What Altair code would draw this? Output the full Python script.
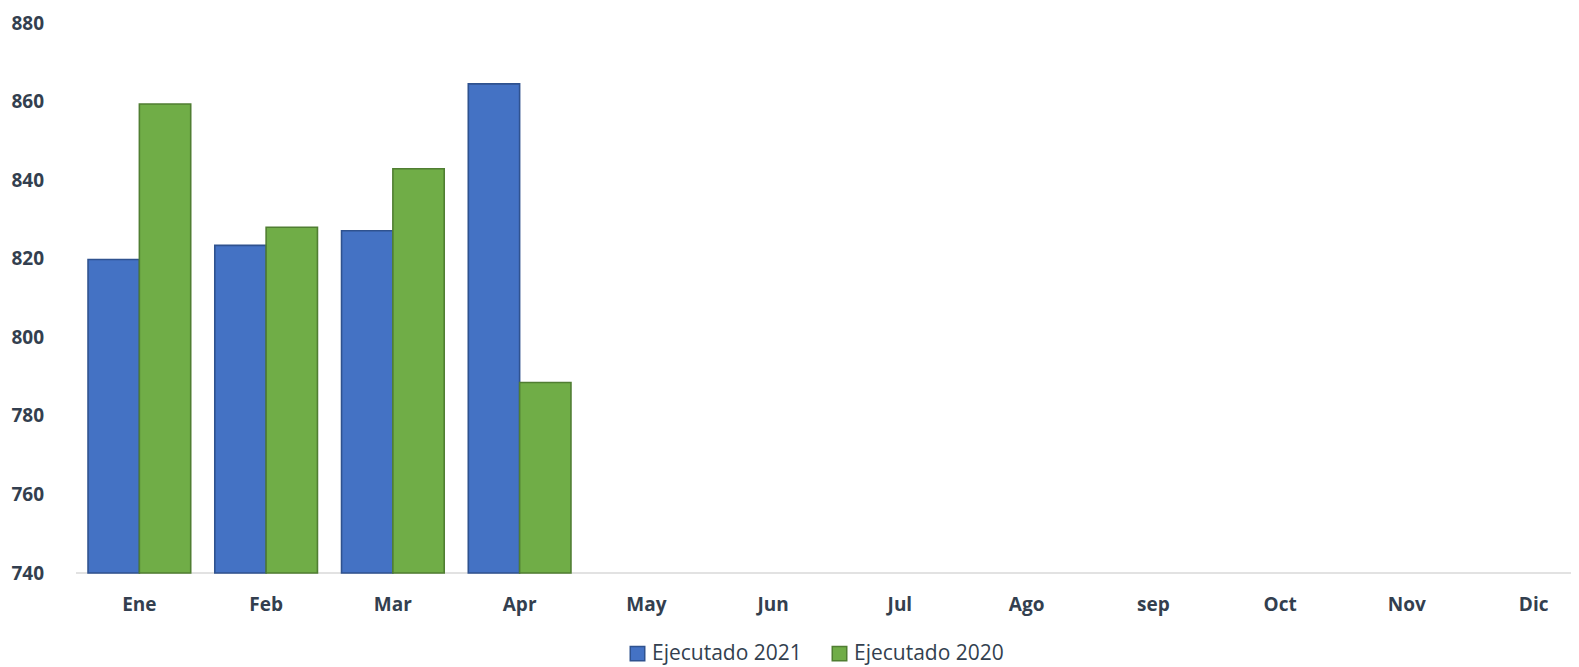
import altair as alt
import pandas as pd

# ---- data ----
months = ["Ene", "Feb", "Mar", "Apr", "May", "Jun", "Jul", "Ago", "sep", "Oct", "Nov", "Dic"]
data_months = ["Ene", "Feb", "Mar", "Apr"]
ejecutado_2021 = [819.8, 823.4, 827.1, 864.5]
ejecutado_2020 = [859.4, 828.0, 842.9, 788.5]
series = ["Ejecutado 2021", "Ejecutado 2020"]
y_ticks = [740, 760, 780, 800, 820, 840, 860, 880]

fill_colors = ["#4472C4", "#70AD47"]
stroke_colors = ["#2F528F", "#507E32"]
TEXT = "#333F4F"
FONT = "Open Sans"

rows = []
for m, a, b in zip(data_months, ejecutado_2021, ejecutado_2020):
    rows.append({"mes": m, "serie": series[0], "valor": a})
    rows.append({"mes": m, "serie": series[1], "valor": b})
df = pd.DataFrame(rows)

W, H = 1495, 550

legend_kw = dict(
    title=None, orient="none", legendX=551, legendY=620, direction="horizontal",
    symbolType="square", symbolSize=210, symbolStrokeWidth=1.5,
    labelFont=FONT, labelFontSize=21, labelColor=TEXT, labelOffset=4,
    columnPadding=27,
)

bars = alt.Chart(df).mark_bar(strokeWidth=1.6).encode(
    x=alt.X(
        "mes:N", sort=months,
        scale=alt.Scale(domain=months, range=[0, 1521], paddingInner=0.19, paddingOuter=0.095),
        axis=alt.Axis(title=None, domain=False, ticks=False, tickSize=0, labelAngle=0,
                      labelFont=FONT, labelFontWeight="bold", labelFontSize=19,
                      labelColor=TEXT, labelPadding=31, labelBaseline="middle"),
    ),
    xOffset=alt.XOffset("serie:N", sort=series,
                        scale=alt.Scale(domain=series, paddingInner=0, paddingOuter=0)),
    y=alt.Y(
        "valor:Q",
        scale=alt.Scale(domain=[740, 880], nice=False, zero=False),
        axis=alt.Axis(title=None, values=y_ticks, domain=False, ticks=False, tickSize=0,
                      grid=False, labelAlign="left", labelPadding=65,
                      labelFont=FONT, labelFontWeight="bold", labelFontSize=19,
                      labelColor=TEXT),
    ),
    y2=alt.datum(740),
    color=alt.Color("serie:N", sort=series,
                    scale=alt.Scale(domain=series, range=fill_colors),
                    legend=alt.Legend(**legend_kw)),
    stroke=alt.Stroke("serie:N", sort=series,
                      scale=alt.Scale(domain=series, range=stroke_colors),
                      legend=alt.Legend(**legend_kw)),
)

baseline = alt.Chart(alt.Data(values=[{"k": 1}])).mark_rule(
    color="#D9D9D9", strokeWidth=1.5
).encode(
    x=alt.value(0), x2=alt.value(1503), y=alt.value(H)
)

chart = alt.layer(baseline, bars).properties(
    width=W, height=H,
    autosize=alt.AutoSizeParams(type="none"),
    padding={"left": 68, "top": 15, "right": 0, "bottom": 94},
    background="white",
).configure_view(stroke=None)

chart.save("out.html", embed_options={"renderer": "svg", "actions": False})
